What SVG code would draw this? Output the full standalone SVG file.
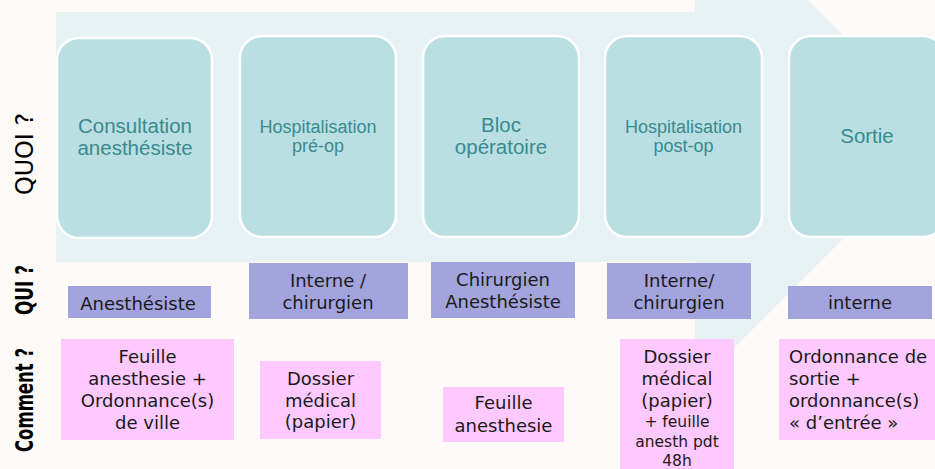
<svg xmlns="http://www.w3.org/2000/svg" width="935" height="469" viewBox="0 0 935 469">
  <style>
    .what rect { fill: #b9dfe2; stroke: #ffffff; stroke-width: 2.5; }
    .what text { font-family: "Liberation Sans", Arial, sans-serif; fill: #3a8a90; text-anchor: middle; }
    .who rect { fill: #a3a3de; }
    .how rect { fill: #fec9fe; }
    .who text, .how text { font-family: "DejaVu Sans", Verdana, sans-serif; font-size: 18px; fill: #1a1a1a; text-anchor: middle; }
    .how text.small { font-size: 15.5px; }
    .how text.left { text-anchor: start; }
    .side { font-family: "DejaVu Sans", Verdana, sans-serif; fill: #000000; text-anchor: middle; }
  </style>
  <rect x="0" y="0" width="935" height="469" fill="#fefaf7"/>
  <g id="flow-arrow">
    <polygon points="56,12 695,12 695,-113 945,137 695,387 695,262 56,262" fill="#e6f2f4"/>
  </g>

  <g id="label-quoi">
    <text class="side" transform="translate(33,154) rotate(-90)" font-size="24" textLength="82" lengthAdjust="spacingAndGlyphs">QUOI ?</text>
  </g>
  <g id="label-qui">
    <text class="side" transform="translate(33,290) rotate(-90)" font-size="24" font-weight="bold" textLength="50" lengthAdjust="spacingAndGlyphs">QUI ?</text>
  </g>
  <g id="label-comment">
    <text class="side" transform="translate(33,400) rotate(-90)" font-size="24" font-weight="bold" textLength="104" lengthAdjust="spacingAndGlyphs">Comment ?</text>
  </g>

  <g id="quoi-consultation" class="what">
    <rect x="57" y="38" width="155" height="200" rx="22"/>
    <text x="135" y="133" font-size="20.5">Consultation</text>
    <text x="135" y="155" font-size="20.5">anesthésiste</text>
  </g>
  <g id="quoi-hospit-preop" class="what">
    <rect x="240" y="36" width="156" height="201" rx="22"/>
    <text x="318" y="133" font-size="18">Hospitalisation</text>
    <text x="318" y="152" font-size="18">pré-op</text>
  </g>
  <g id="quoi-bloc" class="what">
    <rect x="423" y="36" width="156" height="201" rx="22"/>
    <text x="501" y="132" font-size="20.5">Bloc</text>
    <text x="501" y="154" font-size="20.5">opératoire</text>
  </g>
  <g id="quoi-hospit-postop" class="what">
    <rect x="605" y="36" width="157" height="201" rx="22"/>
    <text x="683.5" y="133" font-size="18">Hospitalisation</text>
    <text x="683.5" y="152" font-size="18">post-op</text>
  </g>
  <g id="quoi-sortie" class="what">
    <rect x="789" y="36" width="156" height="201" rx="22"/>
    <text x="867" y="143" font-size="20.5">Sortie</text>
  </g>

  <g id="qui-1" class="who">
    <rect x="68" y="286" width="143" height="32"/>
    <text x="138" y="310">Anesthésiste</text>
  </g>
  <g id="qui-2" class="who">
    <rect x="249" y="263" width="159" height="56"/>
    <text x="328" y="287">Interne /</text>
    <text x="328" y="309">chirurgien</text>
  </g>
  <g id="qui-3" class="who">
    <rect x="431" y="262" width="144" height="56"/>
    <text x="503" y="286">Chirurgien</text>
    <text x="503" y="308">Anesthésiste</text>
  </g>
  <g id="qui-4" class="who">
    <rect x="607" y="263" width="144" height="56"/>
    <text x="679" y="287">Interne/</text>
    <text x="679" y="309">chirurgien</text>
  </g>
  <g id="qui-5" class="who">
    <rect x="788" y="286" width="144" height="33"/>
    <text x="860" y="309">interne</text>
  </g>

  <g id="comment-1" class="how">
    <rect x="61" y="339" width="173" height="101"/>
    <text x="147.5" y="363">Feuille</text>
    <text x="147.5" y="385">anesthesie +</text>
    <text x="147.5" y="407">Ordonnance(s)</text>
    <text x="147.5" y="429">de ville</text>
  </g>
  <g id="comment-2" class="how">
    <rect x="260" y="361" width="121" height="78"/>
    <text x="320.5" y="385">Dossier</text>
    <text x="320.5" y="407">médical</text>
    <text x="320.5" y="428">(papier)</text>
  </g>
  <g id="comment-3" class="how">
    <rect x="443" y="387" width="121" height="55"/>
    <text x="503.5" y="409">Feuille</text>
    <text x="503.5" y="432">anesthesie</text>
  </g>
  <g id="comment-4" class="how">
    <rect x="620" y="339" width="114" height="131"/>
    <text x="677" y="363">Dossier</text>
    <text x="677" y="385">médical</text>
    <text x="677" y="407">(papier)</text>
    <text class="small" x="677" y="427">+ feuille</text>
    <text class="small" x="677" y="447">anesth pdt</text>
    <text class="small" x="677" y="466">48h</text>
  </g>
  <g id="comment-5" class="how">
    <rect x="779" y="339" width="160" height="101"/>
    <text class="left" x="789" y="363">Ordonnance de</text>
    <text class="left" x="789" y="385">sortie +</text>
    <text class="left" x="789" y="407">ordonnance(s)</text>
    <text class="left" x="789" y="429">« d’entrée »</text>
  </g>
</svg>
